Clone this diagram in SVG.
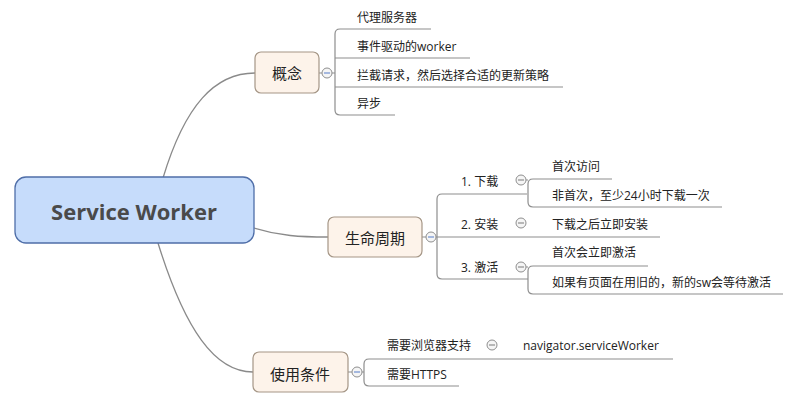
<svg xmlns="http://www.w3.org/2000/svg" width="790" height="403" viewBox="0 0 790 403">
<style>
.conn{fill:none;stroke:#8e8e8e;stroke-width:1.2}
.main{fill:none;stroke:#8a8a8a;stroke-width:1.3}
.br{fill:#fdf3ea;stroke:#a59686;stroke-width:1.2}
.bt{font-family:"Noto Sans CJK SC","Noto Sans",sans-serif;font-size:15px;fill:#222;text-anchor:middle}
.t{font-family:"Open Sans","Noto Sans CJK SC",sans-serif;font-size:12px;fill:#222}
.cc{fill:#f5f5f5;stroke:#8e8e8e;stroke-width:1}
.mb{stroke:#6f8fd0;stroke-width:1.2}
.mg{stroke:#8e8e8e;stroke-width:1.2}
</style>
<rect width="790" height="403" fill="#ffffff"/>
<g id="connectors">
<path class="main" d="M163 178 C185 105 215 73 255 73"/>
<path class="main" d="M254 228 C280 236 300 237 328 237"/>
<path class="main" d="M158 243 C185 330 215 372 253 372"/>
<path class="conn" d="M319 73 H322 M332 73 H335"/>
<path class="conn" d="M431 29 H340 Q335 29 335 34 V110 Q335 115 340 115 H395 M335 58 H470 M335 87 H563"/>
<path class="conn" d="M422 237 H426 M436 237 H660"/>
<path class="conn" d="M527 194 H442 Q437 194 437 199 V274 Q437 279 442 279 H528"/>
<path class="conn" d="M526 180 H528 M612 179 H533 Q528 179 528 184 V202 Q528 207 533 207 H722"/>
<path class="conn" d="M526 267 H528 M648 266 H533 Q528 266 528 271 V289 Q528 294 533 294 H783"/>
<path class="conn" d="M348 372 H352 M362 372 H364 M673 359 H369 Q364 359 364 364 V381 Q364 386 369 386 H459"/>
</g>
<g id="root">
<rect x="15" y="177" width="239" height="66" rx="11" fill="#c6dcfb" stroke="#4f6ea8" stroke-width="1.3"/>
<text x="134" y="220" font-family="'Open Sans','Noto Sans',sans-serif" font-size="22" font-weight="bold" fill="#4a4a4a" text-anchor="middle">Service Worker</text>
</g>
<g id="concept">
<rect class="br" x="255" y="52" width="64" height="41" rx="6"/>
<text class="bt" x="287" y="79">概念</text>
<circle class="cc" cx="327" cy="73" r="5"/><path class="mb" d="M324 73 H330"/>
</g>
<g id="concept-items">
<text class="t" x="357" y="22">代理服务器</text>
<text class="t" x="357" y="51">事件驱动的worker</text>
<text class="t" x="357" y="80">拦截请求，然后选择合适的更新策略</text>
<text class="t" x="357" y="108">异步</text>
</g>
<g id="lifecycle">
<rect class="br" x="328" y="217" width="94" height="40" rx="6"/>
<text class="bt" x="375" y="244">生命周期</text>
<circle class="cc" cx="431" cy="237" r="5"/><path class="mb" d="M428 237 H434"/>
</g>
<g id="lifecycle-items">
<text class="t" x="461" y="186">1. 下载</text>
<circle class="cc" cx="521" cy="180" r="5"/><path class="mg" d="M518 180 H524"/>
<text class="t" x="461" y="229">2. 安装</text>
<circle class="cc" cx="521" cy="223" r="5"/><path class="mg" d="M518 223 H524"/>
<text class="t" x="461" y="272">3. 激活</text>
<circle class="cc" cx="521" cy="267" r="5"/><path class="mg" d="M518 267 H524"/>
<text class="t" x="552" y="171">首次访问</text>
<text class="t" x="552" y="200">非首次，至少24小时下载一次</text>
<text class="t" x="552" y="229">下载之后立即安装</text>
<text class="t" x="552" y="257">首次会立即激活</text>
<text class="t" x="552" y="287">如果有页面在用旧的，新的sw会等待激活</text>
</g>
<g id="usage">
<rect class="br" x="253" y="352" width="95" height="40" rx="6"/>
<text class="bt" x="300" y="380">使用条件</text>
<circle class="cc" cx="357" cy="372" r="5"/><path class="mb" d="M354 372 H360"/>
</g>
<g id="usage-items">
<text class="t" x="387" y="350">需要浏览器支持</text>
<circle class="cc" cx="492" cy="345" r="5"/><path class="mg" d="M489 345 H495"/>
<text class="t" x="523" y="350">navigator.serviceWorker</text>
<text class="t" x="387" y="379">需要HTTPS</text>
</g>
</svg>
